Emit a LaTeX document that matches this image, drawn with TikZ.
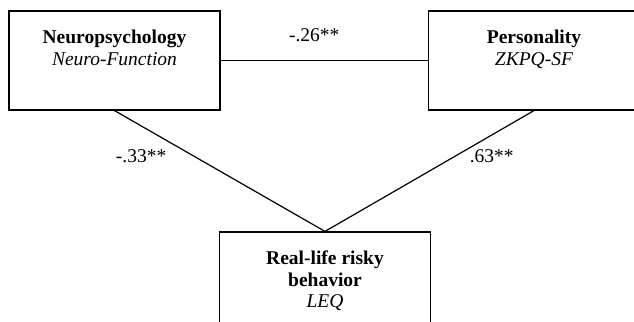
\documentclass[tikz,border=0pt]{standalone}
\usepackage{fontspec}
\setmainfont{Liberation Serif}
\usetikzlibrary{positioning}

\newcommand*{\bxwidth}{105.5pt}
\newcommand*{\bxheight}{49.5pt}

\begin{document}
\begin{tikzpicture}
[
	x=0.5pt, y=0.5pt,
	line width=0.6pt,
	varbox/.style={rectangle,draw,minimum width=\bxwidth,minimum height=\bxheight,inner sep=0pt},
	vartext/.style={inner sep=0pt,align=center,font=\fontsize{9.75}{10.75}\selectfont},
	coef/.style={inner sep=0pt,font=\fontsize{9.75}{10.75}\selectfont}
]
	\useasboundingbox (0,0) rectangle (634,322);

	% boxes
	\node[varbox] (neuro) at (114.5,261.5) {};
	\node[varbox] (pers) at (534,261.5) {};
	\node[varbox] (risk) at (325,40.5) {};

	% box texts
	\node[vartext, below=9.5pt of neuro.north] (neurotxt) {\textbf{Neuropsychology}\\\textit{Neuro-Function}};
	\node[vartext, below=9.5pt of pers.north] (perstxt) {\textbf{Personality}\\\textit{ZKPQ-SF}};
	\node[vartext, below=9.5pt of risk.north] (risktxt) {\textbf{Real-life risky}\\\textbf{behavior}\\\textit{LEQ}};

	% paths
	\draw (neuro.east) -- node[coef, above=9pt, xshift=-5pt] (c1) {-.26**} (pers.west);
	\draw (neuro.south) -- node[coef, pos=0.38, left=13.8pt] (c2) {-.33**} (risk.north);
	\draw (pers.south) -- node[coef, pos=0.38, right=7.3pt] (c3) {.63**} (risk.north);

\end{tikzpicture}
\end{document}
